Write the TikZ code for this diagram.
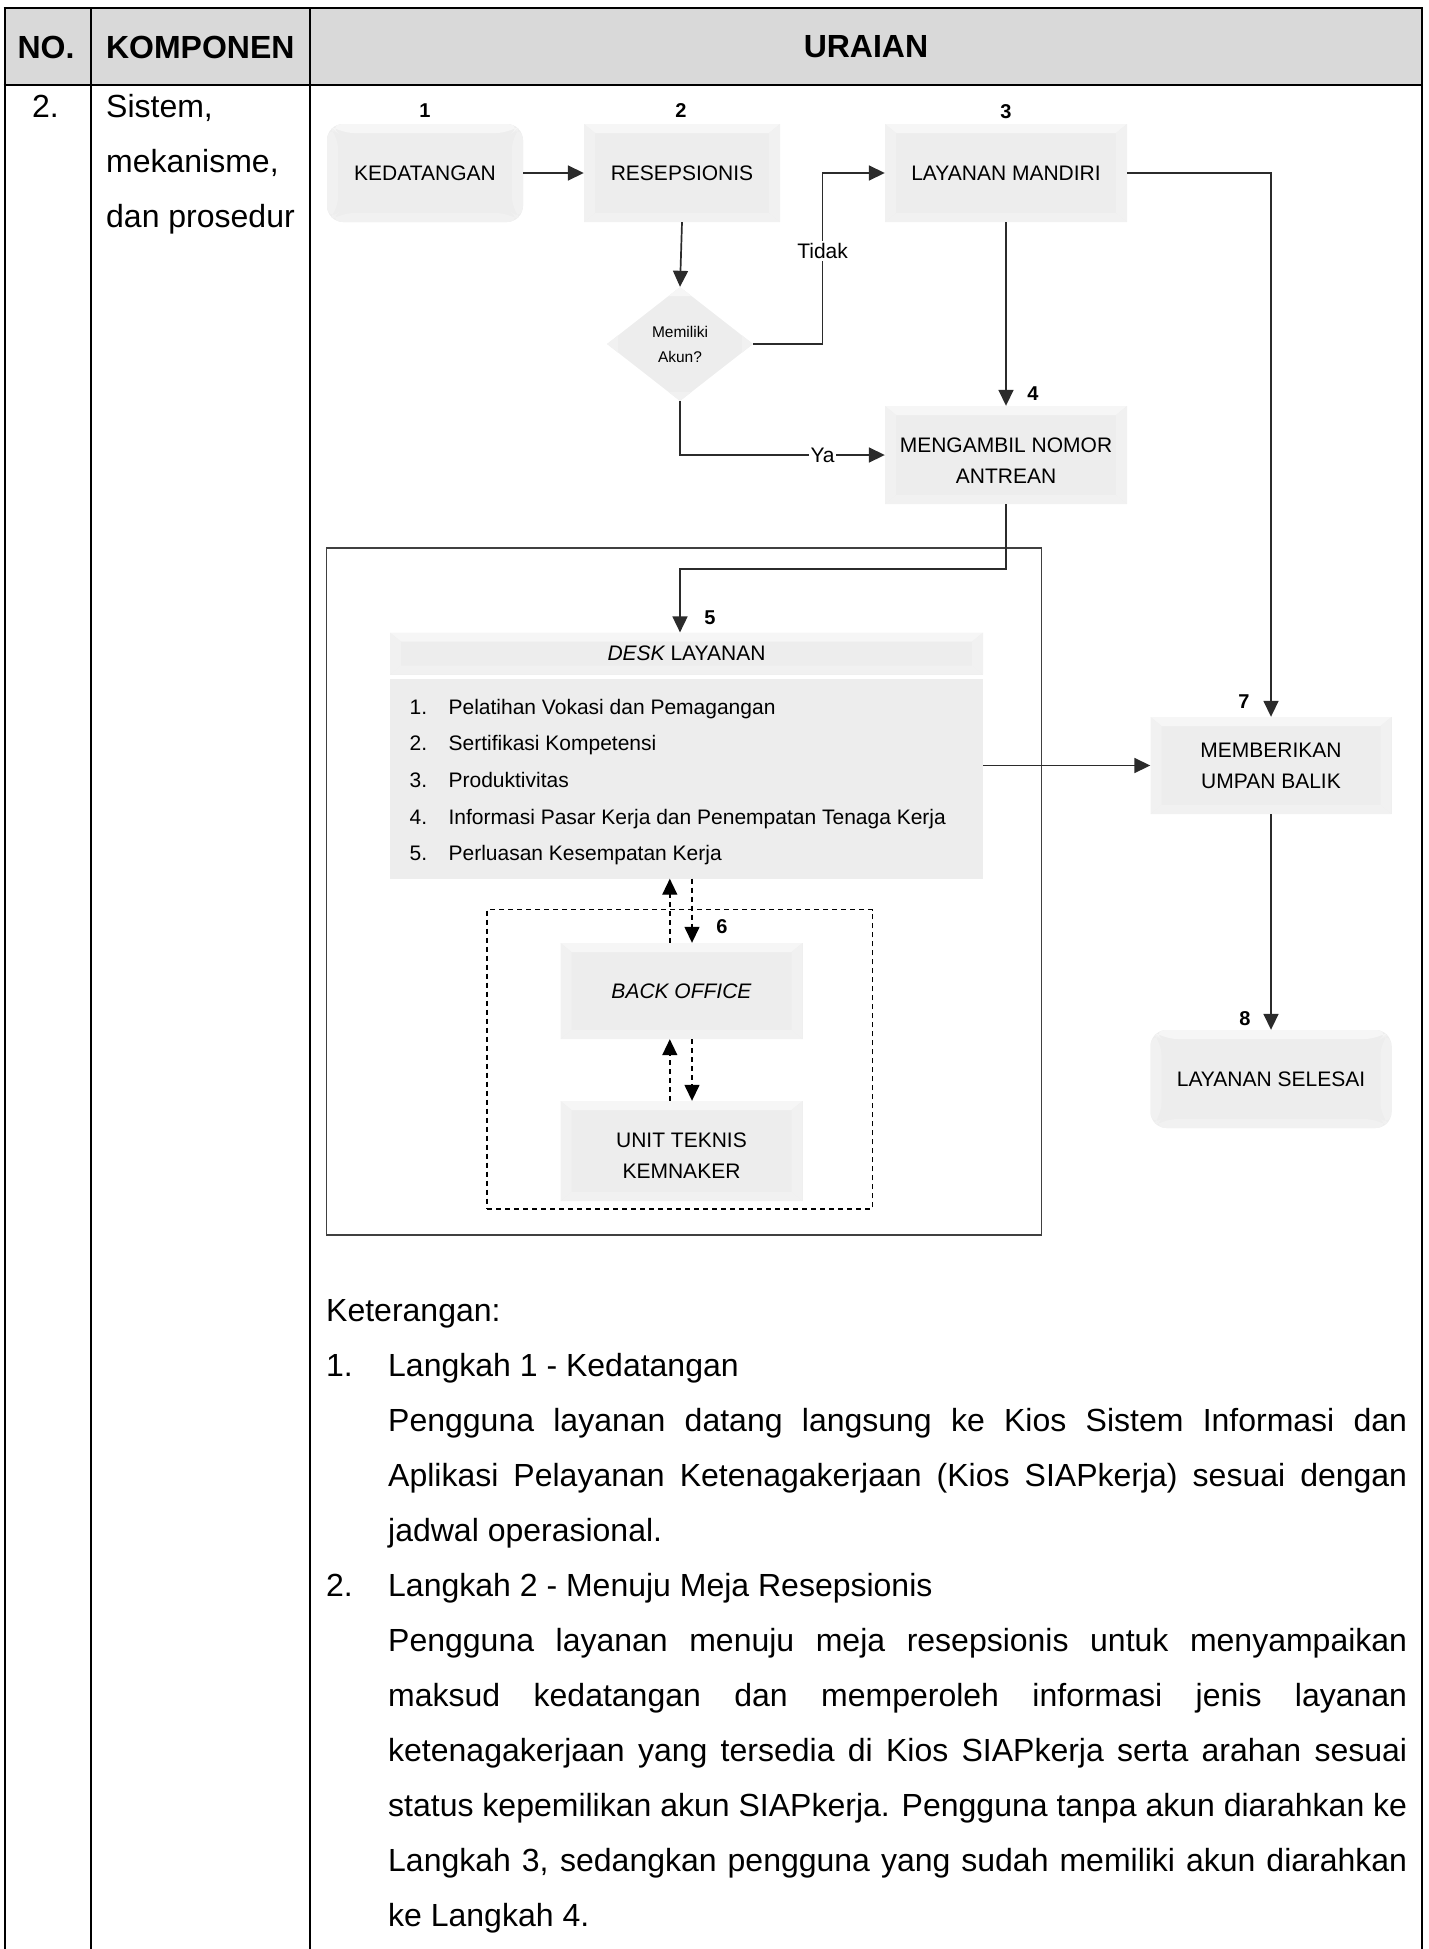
\documentclass[tikz,border=0pt]{standalone}
\usepackage{fontspec}
\setmainfont{Liberation Sans}
\usetikzlibrary{arrows.meta,shapes.geometric,calc}
\definecolor{hdr}{HTML}{D9D9D9}
\definecolor{boxc}{HTML}{EDEDED}
\definecolor{boxt}{HTML}{F6F6F6}
\definecolor{boxs}{HTML}{F1F1F1}
\definecolor{lnc}{HTML}{2B2B2B}
\begin{document}
\begin{tikzpicture}[x=1pt,y=-1pt,
  bevel/.style={path picture={
    \fill[boxt] (path picture bounding box.north west) -- (path picture bounding box.north east)
      -- ([shift={(-11pt,-9pt)}]path picture bounding box.north east) -- ([shift={(11pt,-9pt)}]path picture bounding box.north west) -- cycle;
    \fill[boxs] (path picture bounding box.south west) -- (path picture bounding box.south east)
      -- ([shift={(-11pt,9pt)}]path picture bounding box.south east) -- ([shift={(11pt,9pt)}]path picture bounding box.south west) -- cycle;
    \fill[boxs] (path picture bounding box.south west) -- (path picture bounding box.north west)
      -- ([shift={(11pt,-9pt)}]path picture bounding box.north west) -- ([shift={(11pt,9pt)}]path picture bounding box.south west) -- cycle;
    \fill[boxs] (path picture bounding box.south east) -- (path picture bounding box.north east)
      -- ([shift={(-11pt,-9pt)}]path picture bounding box.north east) -- ([shift={(-11pt,9pt)}]path picture bounding box.south east) -- cycle;
  }},
  fbox/.style={fill=boxc, draw=none, inner sep=0pt, align=center, font=\fontsize{21}{31}\selectfont, bevel},
  rbox/.style={fbox, rounded corners=16pt},
  btxt/.style={inner sep=0pt, align=center, font=\fontsize{21}{31}\selectfont},
  num/.style={font=\bfseries\fontsize{20}{22}\selectfont, inner sep=0pt},
  lbl/.style={font=\fontsize{21}{25}\selectfont, inner xsep=1.5pt, inner ysep=2pt},
  item/.style={font=\fontsize{21}{25}\selectfont, inner sep=0pt, anchor=base west},
  body/.style={font=\fontsize{32}{55}\selectfont, inner sep=0pt, anchor=base west},
  hd/.style={font=\bfseries\fontsize{32}{36}\selectfont, inner sep=0pt},
  tbl/.style={line width=2.2pt, black},
  ln/.style={draw=lnc, line width=1.7pt},
  arr/.style={ln, -{Triangle[length=16pt,width=15pt]}},
  darr/.style={draw=black, line width=1.4pt, dash pattern=on 5pt off 4pt, -{Triangle[length=16pt,width=15pt]}},
]
\useasboundingbox (0,0) rectangle (1429,1949);

% ---------- table ----------
\fill[hdr] (4.7,8) rectangle (1422,85);
\draw[tbl] (3.6,8) -- (1423.1,8);
\draw[tbl] (3.6,85) -- (1423.1,85);
\draw[tbl] (4.7,8) -- (4.7,1950);
\draw[tbl] (90.7,8) -- (90.7,1950);
\draw[tbl] (310,8) -- (310,1950);
\draw[tbl] (1422,8) -- (1422,1950);

\node[hd] (hno) at (46,47) {NO.};
\node[hd] (hkomp) at (200.3,47) {KOMPONEN};
\node[hd] (hur) at (866,47) {URAIAN};

\node[body, anchor=base] (no2) at (45.5,117) {2.};
\node[body] (k1) at (106,117) {Sistem,};
\node[body] (k2) at (106,172) {mekanisme,};
\node[body] (k3) at (106,227) {dan prosedur};

% ---------- containers ----------
\node[draw=black!75, line width=1.3pt, minimum width=714.5, minimum height=687, inner sep=0pt] (grp) at (684,891.5) {};
\node[draw=black, line width=1.3pt, dash pattern=on 5pt off 4pt, minimum width=385.3, minimum height=299.4, inner sep=0pt] (grp6) at (679.65,1059.3) {};

% ---------- boxes ----------
\node[rbox, minimum width=196, minimum height=98] (ked) at (425,173) {KEDATANGAN};
\node[fbox, minimum width=196, minimum height=98] (res) at (682,173) {RESEPSIONIS};
\node[fbox, minimum width=242, minimum height=98] (lm) at (1006,173) {LAYANAN MANDIRI};
\node[diamond, fill=boxc, bevel, inner sep=0pt, minimum width=146, minimum height=114, aspect=1.28, align=center, font=\fontsize{15.5}{25}\selectfont] (dia) at (680,344) {Memiliki\\Akun?};
\node[fbox, minimum width=242, minimum height=98] (mna) at (1006,455) {};
\node[btxt] (mnat) at (1006,461) {MENGAMBIL NOMOR\\ANTREAN};
\node[fbox, minimum width=593, minimum height=42] (desk) at (686.5,653.6) {\itshape DESK\upshape\ LAYANAN};
\node[fill=boxc, inner sep=0pt, minimum width=593, minimum height=200] (list) at (686.5,778.5) {};
\node[fbox, minimum width=241, minimum height=97] (fb) at (1271,765.5) {MEMBERIKAN\\UMPAN BALIK};
\node[rbox, minimum width=241, minimum height=98] (done) at (1271,1079) {LAYANAN SELESAI};
\node[fbox, minimum width=242, minimum height=96] (bo) at (681.5,991) {\itshape BACK OFFICE};
\node[fbox, minimum width=242, minimum height=100] (ut) at (681.5,1151) {};
\node[btxt] (utt) at (681.5,1155.5) {UNIT TEKNIS\\KEMNAKER};

% list items
\node[item] (i1) at (409.5,714.2) {\makebox[38.9pt][l]{1.}Pelatihan Vokasi dan Pemagangan};
\node[item] (i2) at (409.5,750.8) {\makebox[38.9pt][l]{2.}Sertifikasi Kompetensi};
\node[item] (i3) at (409.5,787.4) {\makebox[38.9pt][l]{3.}Produktivitas};
\node[item] (i4) at (409.5,824.0) {\makebox[38.9pt][l]{4.}Informasi Pasar Kerja dan Penempatan Tenaga Kerja};
\node[item] (i5) at (409.5,860.6) {\makebox[38.9pt][l]{5.}Perluasan Kesempatan Kerja};

% step numbers
\node[num] (n1) at (425,111) {1};
\node[num] (n2) at (681,111) {2};
\node[num] (n3) at (1006,112) {3};
\node[num] (n4) at (1033,394) {4};
\node[num] (n5) at (710,617.6) {5};
\node[num] (n6) at (722,927) {6};
\node[num] (n7) at (1244,702) {7};
\node[num] (n8) at (1245,1019) {8};

% ---------- connectors ----------
\draw[arr] (ked.east) -- (res.west);
\draw[arr] (res.south) -- (dia.north);
\coordinate (tk) at (822.6,173);
\draw[arr] (dia.east) -| (tk) -- (lm.west);
\node[lbl, fill=white] (tidak) at (822.6,251) {Tidak};
\draw[arr] (dia.south) |- (mna.west);
\node[lbl, fill=white] (ya) at (822.6,455) {Ya};
\draw[arr] (lm.south) -- (mna.north);
\draw[arr] (lm.east) -| (fb.north);
\coordinate (c5) at (680,569);
\draw[arr] (mna.south) |- (c5) -- (c5 |- desk.north);
\draw[arr] (list.east |- fb.west) -- (fb.west);
\draw[arr] (fb.south) -- (done.north);
\coordinate (ux) at (669.8,0);
\coordinate (dx) at (692,0);
\draw[darr] (bo.north -| ux) -- (list.south -| ux);
\draw[darr] (list.south -| dx) -- (bo.north -| dx);
\draw[darr] (ut.north -| ux) -- (bo.south -| ux);
\draw[darr] (bo.south -| dx) -- (ut.north -| dx);

% ---------- explanation text ----------
\node[body] (ket) at (326,1321) {Keterangan:};
\node[body] (s1) at (326,1376) {\makebox[62pt][l]{1.}Langkah 1 - Kedatangan};
\node[body] (p1a) at (388,1431) {\makebox[1019pt][s]{Pengguna layanan datang langsung ke Kios Sistem Informasi dan}};
\node[body] (p1b) at (388,1486) {\makebox[1019pt][s]{Aplikasi Pelayanan Ketenagakerjaan (Kios SIAPkerja) sesuai dengan}};
\node[body] (p1c) at (388,1541) {jadwal operasional.};
\node[body] (s2) at (326,1596) {\makebox[62pt][l]{2.}Langkah 2 - Menuju Meja Resepsionis};
\node[body] (p2a) at (388,1651) {\makebox[1019pt][s]{Pengguna layanan menuju meja resepsionis untuk menyampaikan}};
\node[body] (p2b) at (388,1706) {\makebox[1019pt][s]{maksud kedatangan dan memperoleh informasi jenis layanan}};
\node[body] (p2c) at (388,1761) {\makebox[1019pt][s]{ketenagakerjaan yang tersedia di Kios SIAPkerja serta arahan sesuai}};
\node[body] (p2d) at (388,1816) {\makebox[1019pt][s]{status kepemilikan akun SIAPkerja. Pengguna tanpa akun diarahkan ke}};
\node[body] (p2e) at (388,1871) {\makebox[1019pt][s]{Langkah 3, sedangkan pengguna yang sudah memiliki akun diarahkan}};
\node[body] (p2f) at (388,1926) {ke Langkah 4.};
\end{tikzpicture}
\end{document}
